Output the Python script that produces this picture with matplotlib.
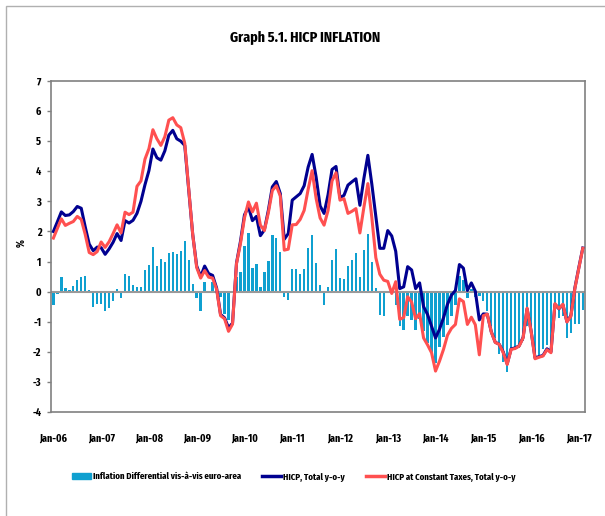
import matplotlib
matplotlib.use("Agg")
import matplotlib.pyplot as plt
from matplotlib import font_manager
from matplotlib.patches import Rectangle
from matplotlib.lines import Line2D
import numpy as np

bold_names = {f.name for f in font_manager.fontManager.ttflist
              if (f.weight if isinstance(f.weight, int) else 400) >= 600
              or str(f.weight) in ("bold", "semibold", "demibold", "heavy", "black")}
FAM = "DejaVu Sans"
for cand in ["Fira Sans Extra Condensed", "Saira ExtraCondensed", "Sofia Sans Extra Condensed",
             "Roboto Condensed", "Fira Sans Condensed"]:
    if cand in bold_names:
        FAM = cand
        break
plt.rcParams["font.family"] = [FAM, "DejaVu Sans"]

# Monthly data, Jan-06 .. Feb-17
differential = [
    -0.43, -0.07, 0.47, 0.11, 0.06, 0.19, 0.38, 0.47, 0.52, 0.07,
    -0.52, -0.41, -0.41, -0.63, -0.54, -0.31, 0.08, -0.21, 0.59, 0.52,
    0.23, 0.17, 0.15, 0.71, 0.88, 1.49, 0.86, 1.10, 1.00, 1.27,
    1.33, 1.26, 1.36, 1.69, 1.04, 0.25, -0.21, -0.64, 0.31, -0.05,
    0.33, 0.02, -0.17, -0.75, -0.93, 0.01, 0.47, 0.65, 1.52, 1.94,
    0.77, 0.92, 0.17, 0.64, 1.02, 1.89, 1.79, 1.33, -0.19, -0.27,
    0.75, 0.74, 0.60, 0.74, 1.45, 1.87, 0.95, 0.22, -0.45, 0.17,
    1.04, 1.43, 0.45, 0.41, 0.86, 1.06, 1.29, 0.50, 1.37, 1.90,
    1.00, 0.11, -0.78, -0.81, 0.03, -0.04, -0.45, -1.14, -1.29, -0.80,
    -0.95, -1.28, -0.92, -1.30, -1.72, -2.00, -2.37, -1.85, -1.50, -1.12,
    -0.80, -0.46, 0.51, 0.40, -0.20, 0.08, -0.18, -0.15, -0.30, -0.65,
    -1.15, -1.54, -2.07, -2.33, -2.67, -2.03, -1.92, -1.87, -1.65, -1.15,
    -1.43, -2.25, -2.18, -1.92, -1.76, -2.03, -0.60, -0.87, -0.82, -1.54,
    -1.37, -1.09, -1.09, -0.62,
]

hicp_total = [
    2.00, 2.32, 2.65, 2.53, 2.55, 2.66, 2.83, 2.77, 2.15, 1.58,
    1.36, 1.48, 1.46, 1.24, 1.42, 1.64, 1.93, 1.70, 2.36, 2.28,
    2.37, 2.60, 3.00, 3.55, 4.02, 4.74, 4.45, 4.37, 4.68, 5.20,
    5.36, 5.08, 5.00, 4.86, 3.40, 1.90, 0.85, 0.50, 0.85, 0.60,
    0.54, 0.12, -0.76, -0.87, -1.20, -1.05, 0.95, 1.67, 2.55, 2.82,
    2.36, 2.50, 1.86, 2.05, 2.70, 3.48, 3.66, 3.26, 1.74, 1.93,
    3.04, 3.15, 3.26, 3.52, 4.14, 4.56, 3.81, 2.85, 2.60, 3.22,
    4.06, 4.16, 3.12, 3.20, 3.54, 3.65, 3.75, 2.87, 3.76, 4.53,
    3.57, 2.50, 1.44, 1.44, 2.03, 1.85, 1.34, 0.10, 0.16, 0.83,
    0.72, 0.10, 0.29, -0.50, -0.76, -1.15, -1.54, -1.25, -0.87, -0.42,
    -0.12, 0.04, 0.90, 0.78, 0.04, 0.29, 0.01, -0.94, -0.74, -0.75,
    -1.33, -1.68, -1.75, -2.00, -2.40, -1.90, -1.87, -1.80, -1.52, -0.57,
    -1.30, -2.20, -2.16, -2.12, -1.90, -2.00, -0.42, -0.57, -0.43, -1.00,
    -0.80, 0.12, 0.80, 1.45,
]

hicp_const_tax = [
    1.78, 2.10, 2.42, 2.20, 2.27, 2.33, 2.50, 2.40, 1.90, 1.30,
    1.23, 1.33, 1.65, 1.47, 1.66, 1.93, 2.22, 1.95, 2.64, 2.56,
    2.64, 3.50, 3.68, 4.40, 4.75, 5.38, 5.08, 4.86, 5.15, 5.70,
    5.78, 5.54, 5.45, 4.93, 3.40, 1.90, 0.80, 0.45, 0.70, 0.48,
    0.45, 0.08, -0.80, -0.90, -1.32, -1.08, 0.93, 1.60, 2.45, 2.98,
    2.65, 2.94, 2.21, 2.03, 2.62, 3.36, 3.52, 3.18, 1.38, 1.41,
    2.22, 2.23, 2.40, 2.70, 3.40, 4.02, 3.10, 2.45, 2.21, 2.70,
    3.68, 3.95, 3.04, 3.09, 2.60, 2.67, 2.76, 1.95, 2.80, 3.59,
    2.46, 1.13, 0.58, 0.38, 0.34, -0.06, 0.33, -0.92, -0.86, -0.17,
    -0.35, -0.90, -0.73, -1.54, -1.77, -2.03, -2.64, -2.31, -1.92, -1.45,
    -1.22, -1.09, -0.24, -0.33, -1.09, -0.85, -1.10, -2.10, -0.80, -0.75,
    -1.34, -1.69, -1.75, -2.03, -2.42, -1.92, -1.89, -1.81, -1.54, -0.55,
    -1.31, -2.23, -2.18, -2.14, -1.93, -2.03, -0.40, -0.56, -0.42, -1.01,
    -0.82, 0.10, 0.78, 1.44,
]

tick_labels = ["Jan-06", "Jan-07", "Jan-08", "Jan-09", "Jan-10", "Jan-11",
               "Jan-12", "Jan-13", "Jan-14", "Jan-15", "Jan-16", "Jan-17"]

title = "Graph 5.1. HICP INFLATION"
legend_labels = ["Inflation Differential vis-à-vis euro-area",
                 "HICP, Total y-o-y",
                 "HICP at Constant Taxes, Total y-o-y"]

BAR_C = "#0FA0D0"
BLUE_C = "#000090"
RED_C = "#FF5050"

W, H = 605, 516
fig = plt.figure(figsize=(W / 100, H / 100), dpi=100)
renderer = fig.canvas.get_renderer()


def fit_size(text, target_px, max_size):
    t = fig.text(0, 0, text, fontsize=10, fontweight="bold")
    w = t.get_window_extent(renderer).width
    t.remove()
    return min(max_size, 10 * target_px / w)


title_fs = fit_size(title, 150, 15)
tick_fs = fit_size("Jan-06", 28, 11)
leg_fs = fit_size(legend_labels[0], 148, 11)

# outer frame
fig.add_artist(Rectangle((6 / W, -0.01), 1.2, 1 - 6 / H + 0.01, transform=fig.transFigure,
                         fill=False, edgecolor="#b0b0b0", lw=1.0))

ax = fig.add_axes([51 / W, 1 - 412 / H, (585 - 51) / W, (412 - 81) / H])
x = np.arange(len(differential))
ax.bar(x, differential, width=0.6, color=BAR_C, zorder=2)
ax.axhline(0, color="#999999", lw=1.5, zorder=2.5)
ax.plot(x, hicp_total, color=BLUE_C, lw=2.2, zorder=3, solid_joinstyle="round")
ax.plot(x, hicp_const_tax, color=RED_C, lw=2.2, zorder=4, solid_joinstyle="round")

ax.set_xlim(-0.6, len(differential) - 0.45)
ax.set_ylim(-4, 7)
ax.set_yticks(range(-4, 8))
ax.set_yticklabels([str(v) for v in range(-4, 8)], fontsize=tick_fs, fontweight="bold")
ax.set_xticks([12 * i for i in range(len(tick_labels))])
ax.set_xticklabels(tick_labels, fontsize=tick_fs, fontweight="bold")
ax.tick_params(axis="x", length=0, pad=15)
ax.tick_params(axis="y", length=3, width=1, color="#808080", pad=4)
for s in ax.spines.values():
    s.set_color("#808080")
    s.set_linewidth(1.2)

ax.set_ylabel("%", fontsize=tick_fs, fontweight="bold")
ax.yaxis.set_label_coords(-0.045, 0.51)

fig.text(305 / W, 1 - 38 / H, title, ha="center", va="center", fontsize=title_fs,
         fontweight="bold")

fs_px = leg_fs * 100 / 72
handles = [Rectangle((0, 0), 1, 1, color=BAR_C),
           Line2D([0], [0], color=BLUE_C, lw=2.5),
           Line2D([0], [0], color=RED_C, lw=2.5)]
leg = fig.legend(handles, legend_labels, loc="center left", bbox_to_anchor=(72 / W, 1 - 477 / H),
                 ncol=3, frameon=False, borderpad=0, borderaxespad=0,
                 handlelength=19 / fs_px, handletextpad=2 / fs_px,
                 columnspacing=21 / fs_px, prop={"size": leg_fs, "weight": "bold"})

fig.savefig("out.png", dpi=100)
